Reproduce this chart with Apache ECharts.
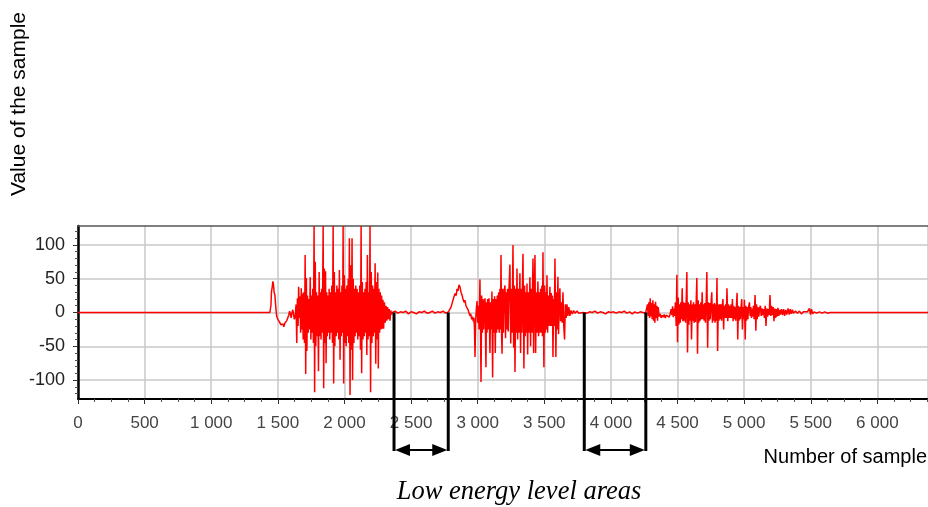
<!DOCTYPE html>
<html><head><meta charset="utf-8">
<script src="https://cdn.jsdelivr.net/npm/echarts@6/dist/echarts.min.js"></script>
<style>html,body{margin:0;padding:0;background:#fff}#c{width:928px;height:507px}</style>
</head><body><div id="c"></div>
<script>
// ---- data: [sample number, sample value] ----
const leadIn = [[0,0],[1440,0]];
const burst1 = [[1448,10],[1452,30],[1458,38],[1463,46],[1468,40],[1472,30],[1478,26],[1483,12],[1488,0],[1492,-6],[1500,-10],[1508,-12],[1515,-15],[1522,-18],[1530,-20],[1538,-17],[1545,-21],[1552,-16],[1560,-18],[1567,-12],[1575,-10],[1582,-4],[1588,2],[1594,-2],[1600,-8],[1606,0],[1612,4],[1618,-3],[1624,-10],[1630,-6],[1637,12],[1642,-45],[1647,21],[1652,-20],[1656,38],[1661,-8],[1666,24],[1671,-30],[1676,36],[1681,-25],[1686,28],[1690,-40],[1695,30],[1700,-45],[1705,85],[1709,-91],[1714,51],[1718,-57],[1723,25],[1728,-30],[1733,20],[1738,-25],[1743,52],[1748,-40],[1752,25],[1757,-30],[1762,35],[1767,-45],[1772,128],[1776,-118],[1781,75],[1785,-50],[1790,30],[1795,-35],[1800,25],[1805,-87],[1810,60],[1814,-35],[1819,30],[1824,-40],[1829,35],[1834,-30],[1840,128],[1844,-112],[1849,65],[1853,-45],[1858,61],[1862,-75],[1867,30],[1871,-35],[1876,25],[1880,-30],[1885,35],[1890,-40],[1895,30],[1900,-30],[1905,40],[1910,-45],[1915,128],[1919,-105],[1924,60],[1928,-50],[1933,30],[1938,-35],[1943,40],[1948,-30],[1952,35],[1957,-40],[1962,63],[1967,-70],[1971,30],[1976,-35],[1981,40],[1986,-30],[1990,128],[1994,-105],[1999,55],[2004,-45],[2008,35],[2013,-50],[2018,40],[2023,-35],[2028,50],[2032,-45],[2037,110],[2042,-122],[2047,70],[2052,-55],[2057,110],[2061,-100],[2066,50],[2071,-45],[2076,35],[2080,-35],[2085,40],[2090,-30],[2095,35],[2100,-40],[2105,30],[2110,-35],[2115,40],[2120,-55],[2125,128],[2129,-90],[2134,45],[2139,-40],[2144,30],[2149,-35],[2154,35],[2158,-30],[2163,45],[2168,-63],[2172,85],[2177,-40],[2182,30],[2187,-35],[2192,128],[2196,-118],[2201,60],[2206,-45],[2211,40],[2216,-35],[2221,35],[2226,-30],[2230,73],[2235,-76],[2240,45],[2245,-40],[2250,59],[2254,-83],[2259,35],[2264,-30],[2269,30],[2274,-25],[2279,25],[2284,-24],[2289,19],[2294,-24],[2300,15],[2306,-15],[2312,10],[2318,-12],[2324,8],[2330,-10],[2336,5],[2342,-12],[2348,3],[2354,-3],[2360,0]];
const pause1 = [[2380,2],[2400,-1],[2420,1],[2440,0],[2460,2],[2480,-2],[2500,1],[2520,0],[2540,-2],[2560,1],[2580,0],[2600,2],[2620,-1],[2640,0],[2660,2],[2680,-1],[2700,1],[2720,0],[2740,2],[2760,-1],[2780,1]];
const burst2 = [[2792,2],[2800,8],[2810,15],[2820,22],[2830,28],[2838,25],[2845,35],[2852,32],[2860,41],[2867,38],[2875,30],[2882,26],[2890,20],[2898,15],[2905,18],[2912,10],[2920,8],[2928,4],[2935,2],[2942,-5],[2948,-2],[2955,-10],[2961,-6],[2967,-13],[2972,-8],[2976,-25],[2980,-66],[2985,-10],[2990,5],[2995,17],[3000,-15],[3005,10],[3010,-25],[3017,49],[3021,-20],[3025,-103],[3030,25],[3035,-30],[3040,20],[3045,-25],[3050,15],[3055,21],[3062,-81],[3066,15],[3070,-30],[3075,20],[3080,-25],[3085,21],[3092,-60],[3097,15],[3102,-25],[3107,31],[3112,-96],[3117,20],[3122,-30],[3127,24],[3132,-60],[3137,20],[3142,-30],[3147,25],[3152,-25],[3157,30],[3162,-30],[3167,35],[3171,-25],[3175,85],[3179,-30],[3183,-61],[3188,35],[3193,-30],[3198,30],[3205,40],[3209,-38],[3214,30],[3219,-25],[3224,35],[3229,-28],[3235,35],[3242,71],[3248,-46],[3253,35],[3258,-30],[3265,100],[3270,-52],[3275,40],[3280,-88],[3285,35],[3290,-30],[3295,65],[3300,-40],[3305,35],[3310,-30],[3317,58],[3322,-60],[3327,35],[3332,-30],[3336,40],[3340,87],[3347,-83],[3352,40],[3357,-35],[3362,30],[3366,-30],[3370,43],[3375,-62],[3380,30],[3385,-30],[3392,52],[3397,-50],[3402,35],[3407,-30],[3411,30],[3415,80],[3420,-60],[3425,35],[3430,85],[3435,-60],[3440,30],[3445,-30],[3452,46],[3457,-35],[3462,30],[3467,-30],[3472,35],[3477,-30],[3482,40],[3486,-35],[3490,89],[3497,-81],[3502,40],[3507,-30],[3512,30],[3516,-25],[3520,55],[3525,-30],[3530,25],[3535,-20],[3542,38],[3547,-20],[3552,29],[3557,-20],[3561,25],[3565,-66],[3570,20],[3575,-20],[3580,80],[3587,-66],[3592,30],[3597,-25],[3602,53],[3607,-32],[3612,20],[3617,36],[3622,-13],[3628,15],[3634,-15],[3640,30],[3646,-20],[3652,-40],[3658,12],[3664,-8],[3670,12],[3677,-5],[3684,8],[3692,-5],[3700,3],[3710,-2],[3720,3],[3730,-1],[3745,2],[3760,-1],[3775,1],[3790,0]];
const pause2 = [[3805,1],[3820,-1],[3840,1],[3860,0],[3880,2],[3900,-1],[3920,1],[3940,0],[3960,-2],[3980,1],[4000,0],[4020,1],[4040,-1],[4060,1],[4080,0],[4100,2],[4120,-1],[4140,1],[4160,-2],[4180,1],[4200,-1],[4220,1],[4240,0],[4260,-1]];
const burst3 = [[4270,0],[4275,12],[4280,-5],[4285,15],[4290,-8],[4295,21],[4300,-6],[4305,14],[4310,-10],[4315,18],[4320,-12],[4325,12],[4330,-15],[4335,16],[4340,-8],[4345,10],[4350,-12],[4355,8],[4362,-6],[4370,-2],[4377,-8],[4385,-4],[4392,-7],[4400,-3],[4408,-8],[4415,-4],[4422,-6],[4430,-3],[4437,-7],[4445,-2],[4452,5],[4458,-4],[4463,9],[4468,-7],[4473,6],[4478,-5],[4484,15],[4490,-20],[4495,56],[4500,-44],[4505,22],[4510,-18],[4515,12],[4520,-15],[4525,15],[4530,-10],[4535,36],[4540,-13],[4545,15],[4550,-12],[4555,14],[4560,-15],[4565,18],[4570,60],[4575,-59],[4580,15],[4585,-18],[4590,12],[4595,-12],[4600,18],[4605,-40],[4610,12],[4615,-12],[4620,15],[4625,-15],[4630,12],[4635,-14],[4640,15],[4645,51],[4650,-61],[4655,18],[4660,-15],[4665,12],[4670,-12],[4675,15],[4680,-10],[4685,30],[4690,-10],[4695,12],[4700,-12],[4705,14],[4710,-15],[4715,15],[4720,60],[4726,-52],[4731,15],[4736,-12],[4741,14],[4746,-10],[4751,12],[4757,30],[4762,-15],[4767,12],[4772,-12],[4777,14],[4782,-15],[4787,12],[4792,-12],[4796,51],[4801,-57],[4806,12],[4811,-12],[4816,12],[4821,-10],[4826,12],[4831,-12],[4836,10],[4841,20],[4846,-25],[4851,10],[4856,-8],[4861,12],[4866,-8],[4871,36],[4877,-13],[4882,12],[4887,-8],[4892,10],[4897,-8],[4902,12],[4907,-8],[4912,20],[4917,-13],[4922,10],[4927,-10],[4932,8],[4937,-12],[4942,10],[4947,29],[4952,-40],[4957,10],[4962,-12],[4967,8],[4972,-10],[4977,8],[4982,20],[4987,-25],[4992,8],[4997,-10],[5002,19],[5008,-40],[5013,10],[5018,-12],[5023,8],[5028,-10],[5033,8],[5040,15],[5045,-5],[5050,8],[5055,-8],[5060,6],[5065,-6],[5070,10],[5075,-10],[5082,26],[5088,-27],[5093,12],[5098,-10],[5104,8],[5110,-6],[5116,6],[5122,10],[5128,-5],[5134,6],[5140,-4],[5146,5],[5152,-8],[5158,10],[5164,-20],[5170,6],[5176,-6],[5182,5],[5188,-4],[5194,26],[5200,-5],[5206,10],[5212,-4],[5218,8],[5224,-13],[5230,6],[5236,-8],[5242,5],[5248,-6],[5254,7],[5260,-5],[5266,4],[5272,-3],[5280,5],[5288,-4],[5296,5],[5304,-5],[5312,4],[5320,-3],[5330,6],[5338,-3],[5346,5],[5354,-2],[5362,4],[5370,-1],[5385,2],[5400,-1],[5415,2],[5430,-2],[5445,1],[5460,-1],[5475,1],[5490,6],[5498,-3],[5506,5],[5514,-2],[5525,1],[5545,-1],[5565,1],[5585,-1],[5605,1],[5625,-1],[5645,0]];
const tail = [[5690,0],[5695,-2],[5700,0],[5775,0],[5780,-2],[5785,0],[6380,0]];
// annotated low-energy areas [start sample, end sample]
const lowEnergyAreas = [[2372, 2779], [3800, 4262]];
const yTickValues = [-100, -50, 0, 50, 100];
const yMinorValues = [-120,-110,-90,-80,-70,-60,-40,-30,-20,-10,10,20,30,40,60,70,80,90,110,120];
const xMax = 6380, yMin = -128, yMax = 128;
const texts = { yName: 'Value of the sample', xName: 'Number of sample', note: 'Low energy level areas' };

const wave = [].concat(leadIn, burst1, pause1, burst2, pause2, burst3, tail);
const fmtX = v => String(v).replace(/\B(?=(\d{3})+(?!\d))/g, ' ');

const chart = echarts.init(document.getElementById('c'), null, { renderer: 'canvas' });
chart.setOption({
  animation: false,
  backgroundColor: '#fff',
  grid: { left: 78, right: 0, top: 226, bottom: 108, containLabel: false },
  xAxis: [{
    type: 'value', min: 0, max: xMax, interval: 500,
    axisLine: { onZero: false, lineStyle: { color: '#000', width: 2 } },
    axisTick: { show: true, length: 5, lineStyle: { color: '#333' } },
    minorTick: { show: true, splitNumber: 4, length: 3, lineStyle: { color: '#555' } },
    splitLine: { show: true, lineStyle: { color: '#c8c8c8', width: 1.5 } },
    axisLabel: { margin: 16, color: '#444', fontSize: 17, fontFamily: 'Liberation Sans', formatter: fmtX, showMaxLabel: false }
  }, {
    type: 'value', position: 'top', min: 0, max: xMax,
    axisLine: { onZero: false, lineStyle: { color: '#555', width: 1.5 } },
    axisTick: { show: false }, axisLabel: { show: false }, splitLine: { show: false }
  }],
  yAxis: [{
    type: 'value', min: yMin, max: yMax,
    axisLine: { show: true, onZero: false, lineStyle: { color: '#000', width: 2.5 } },
    axisTick: { show: true, length: 5, customValues: yTickValues, lineStyle: { color: '#333' } },
    splitLine: { show: true, lineStyle: { color: '#c8c8c8', width: 1.5 } },
    axisLabel: { margin: 13, color: '#222', fontSize: 18, fontFamily: 'Liberation Sans', customValues: yTickValues }
  }, {
    type: 'value', min: yMin, max: yMax, position: 'left',
    axisLine: { show: false, onZero: false },
    axisTick: { show: true, length: 3, customValues: yMinorValues, lineStyle: { color: '#555' } },
    splitLine: { show: false },
    axisLabel: { show: false }
  }],
  series: [{
    type: 'line', data: wave, showSymbol: false, symbol: 'none',
    lineStyle: { color: '#ff0000', width: 1.5 }, clip: true, z: 3
  }]
});

function drawAnnotations() {
  const g = [];
  const bottomPx = chart.convertToPixel({ gridIndex: 0 }, [0, yMin])[1];
  const yEnd = bottomPx + 52;
  const yArrow = yEnd - 1;
  lowEnergyAreas.forEach(([a, b]) => {
    const pa = chart.convertToPixel({ gridIndex: 0 }, [a, 0]);
    const pb = chart.convertToPixel({ gridIndex: 0 }, [b, 0]);
    [pa, pb].forEach(p => g.push({ type: 'line', z: 10, shape: { x1: p[0], y1: p[1], x2: p[0], y2: yEnd }, style: { stroke: '#000', lineWidth: 3 } }));
    g.push({ type: 'line', z: 10, shape: { x1: pa[0] + 8, y1: yArrow, x2: pb[0] - 8, y2: yArrow }, style: { stroke: '#000', lineWidth: 2 } });
    g.push({ type: 'polygon', z: 10, shape: { points: [[pa[0] + 1, yArrow], [pa[0] + 16, yArrow - 6], [pa[0] + 16, yArrow + 6]] }, style: { fill: '#000' } });
    g.push({ type: 'polygon', z: 10, shape: { points: [[pb[0] - 1, yArrow], [pb[0] - 16, yArrow - 6], [pb[0] - 16, yArrow + 6]] }, style: { fill: '#000' } });
  });
  g.push({ type: 'text', z: 10, x: 19, y: 104, rotation: Math.PI / 2,
    style: { text: texts.yName, fill: '#000', font: '21px "Liberation Sans"', align: 'center', verticalAlign: 'middle' } });
  g.push({ type: 'text', z: 10, x: 927, y: 457,
    style: { text: texts.xName, fill: '#000', font: '20px "Liberation Sans"', align: 'right', verticalAlign: 'middle' } });
  g.push({ type: 'text', z: 10, x: 519, y: 492,
    style: { text: texts.note, fill: '#000', font: 'italic 26.5px "Liberation Serif"', align: 'center', verticalAlign: 'middle' } });
  chart.setOption({ graphic: g });
}
drawAnnotations();
</script>
</body></html>
